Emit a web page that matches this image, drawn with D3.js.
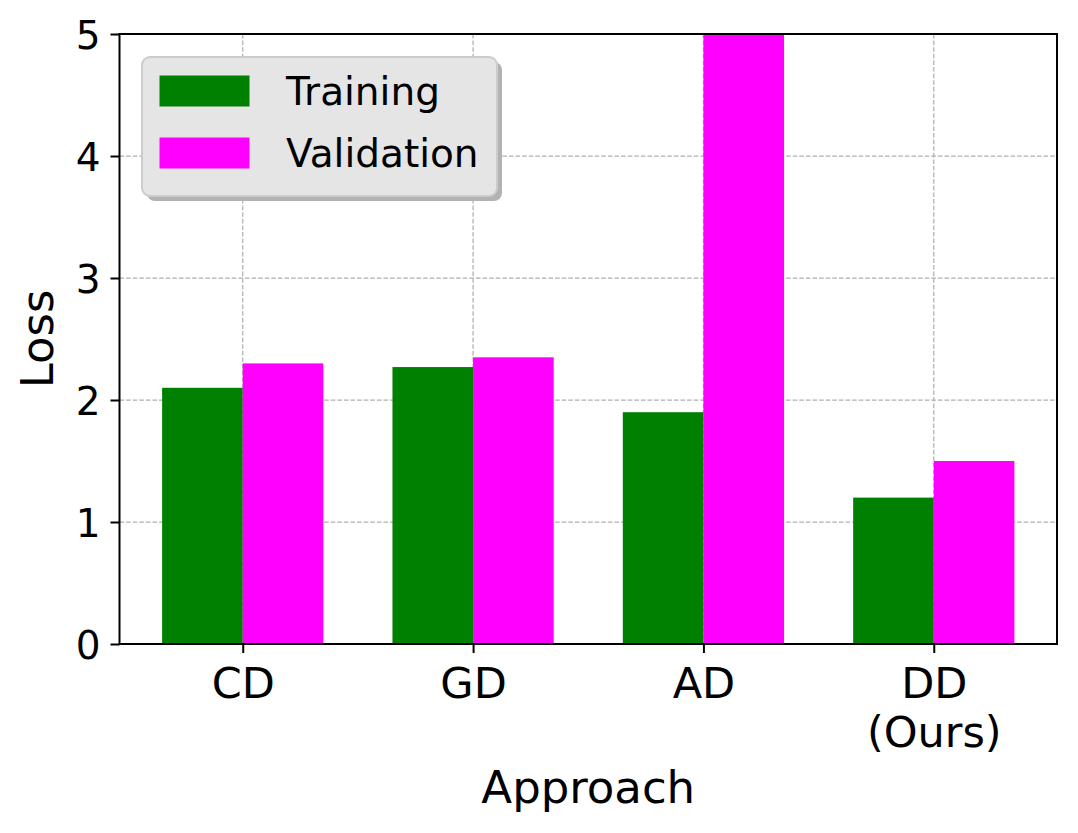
<!DOCTYPE html>
<html>
<head>
<meta charset="utf-8">
<script src="https://cdn.jsdelivr.net/npm/d3@7"></script>
<style>
  html, body { margin: 0; padding: 0; background: #fff; }
  text { font-family: "DejaVu Sans", sans-serif; fill: #000; }
</style>
</head>
<body>
<svg id="chart" width="1078" height="833"></svg>
<script>
const categories = ["CD", "GD", "AD", "DD\n(Ours)"];
const trainingLoss = [2.1, 2.27, 1.9, 1.2];
const validationLoss = [2.3, 2.35, 5.0, 1.5];
const seriesNames = ["Training", "Validation"];
const seriesColors = ["#008000", "#ff00ff"];
const yTicks = [0, 1, 2, 3, 4, 5];
const xLabel = "Approach";
const yLabel = "Loss";

const svg = d3.select("#chart");
const margin = { left: 119.5, right: 1057, top: 34, bottom: 644 };
const barWidth = 0.35;

const x = d3.scaleLinear().domain([-0.535, 3.535]).range([margin.left, margin.right]);
const y = d3.scaleLinear().domain([0, 5]).range([margin.bottom, margin.top]);

svg.append("defs").append("clipPath").attr("id", "plotclip")
  .append("rect").attr("x", margin.left).attr("y", margin.top)
  .attr("width", margin.right - margin.left).attr("height", margin.bottom - margin.top);

// grid
const grid = svg.append("g");
grid.selectAll("line.h").data(yTicks.slice(1, -1)).enter().append("line")
  .attr("x1", margin.left).attr("x2", margin.right)
  .attr("y1", d => y(d)).attr("y2", d => y(d))
  .attr("stroke", "#b0b0b0").attr("stroke-width", 1.25).attr("stroke-dasharray", "4.6,2");
grid.selectAll("line.v").data(categories.map((c, i) => i)).enter().append("line")
  .attr("y1", margin.top).attr("y2", margin.bottom)
  .attr("x1", d => x(d)).attr("x2", d => x(d))
  .attr("stroke", "#b0b0b0").attr("stroke-width", 1.25).attr("stroke-dasharray", "4.6,2");

// bars
const series = [trainingLoss, validationLoss];
const bars = svg.append("g").attr("clip-path", "url(#plotclip)");
series.forEach((vals, s) => {
  const offset = s === 0 ? -barWidth / 2 : barWidth / 2;
  bars.selectAll(null).data(vals).enter().append("rect")
    .attr("x", (d, i) => x(i + offset - barWidth / 2))
    .attr("width", (d, i) => x(i + offset + barWidth / 2) - x(i + offset - barWidth / 2))
    .attr("y", d => y(d))
    .attr("height", d => y(0) - y(d))
    .attr("fill", seriesColors[s]);
});

// axes
const yAxis = d3.axisLeft(y).tickValues(yTicks).tickFormat(d3.format("d")).tickSize(9).tickPadding(10);
const gy = svg.append("g").attr("transform", `translate(${margin.left},0)`).call(yAxis);
gy.select(".domain").remove();
gy.selectAll(".tick line").attr("stroke", "#000").attr("stroke-width", 2);
gy.selectAll(".tick text").style("font-size", "39px").style("font-family", "DejaVu Sans").attr("dy", "0.36em");

const xAxis = d3.axisBottom(x).tickValues(categories.map((c, i) => i)).tickFormat(() => "").tickSize(9);
const gx = svg.append("g").attr("transform", `translate(0,${margin.bottom})`).call(xAxis);
gx.select(".domain").remove();
gx.selectAll(".tick line").attr("stroke", "#000").attr("stroke-width", 2);
gx.selectAll(".tick").each(function(d, i) {
  const lines = categories[i].split("\n");
  const t = d3.select(this).append("text")
    .attr("text-anchor", "middle").style("font-size", "43px").attr("y", 54);
  lines.forEach((ln, k) => {
    t.append("tspan").attr("x", 0).attr("dy", k === 0 ? 0 : 48.5).text(ln);
  });
});

// frame
svg.append("rect").attr("x", margin.left).attr("y", margin.top)
  .attr("width", margin.right - margin.left).attr("height", margin.bottom - margin.top)
  .attr("fill", "none").attr("stroke", "#000").attr("stroke-width", 2);

// axis labels
svg.append("text").attr("x", (margin.left + margin.right) / 2).attr("y", 803)
  .attr("text-anchor", "middle").style("font-size", "45px").text(xLabel);
svg.append("text").attr("transform", `translate(53,${(margin.top + margin.bottom) / 2}) rotate(-90)`)
  .attr("text-anchor", "middle").style("font-size", "45px").text(yLabel);

// legend
const lg = svg.append("g");
const lx = 142, ly = 57, lw = 355, lh = 139;
lg.append("rect").attr("x", lx + 5).attr("y", ly + 5).attr("width", lw).attr("height", lh)
  .attr("rx", 8).attr("fill", "#b2b2b2");
lg.append("rect").attr("x", lx).attr("y", ly).attr("width", lw).attr("height", lh)
  .attr("rx", 8).attr("fill", "#e5e5e5").attr("stroke", "#cccccc").attr("stroke-width", 2);
seriesNames.forEach((name, i) => {
  lg.append("rect").attr("x", 159.5).attr("y", 75.5 + i * 62).attr("width", 90).attr("height", 31)
    .attr("fill", seriesColors[i]);
  lg.append("text").attr("x", 286).attr("y", 91 + i * 62).attr("dy", "0.36em")
    .style("font-size", "39px").text(name);
});
</script>
</body>
</html>
